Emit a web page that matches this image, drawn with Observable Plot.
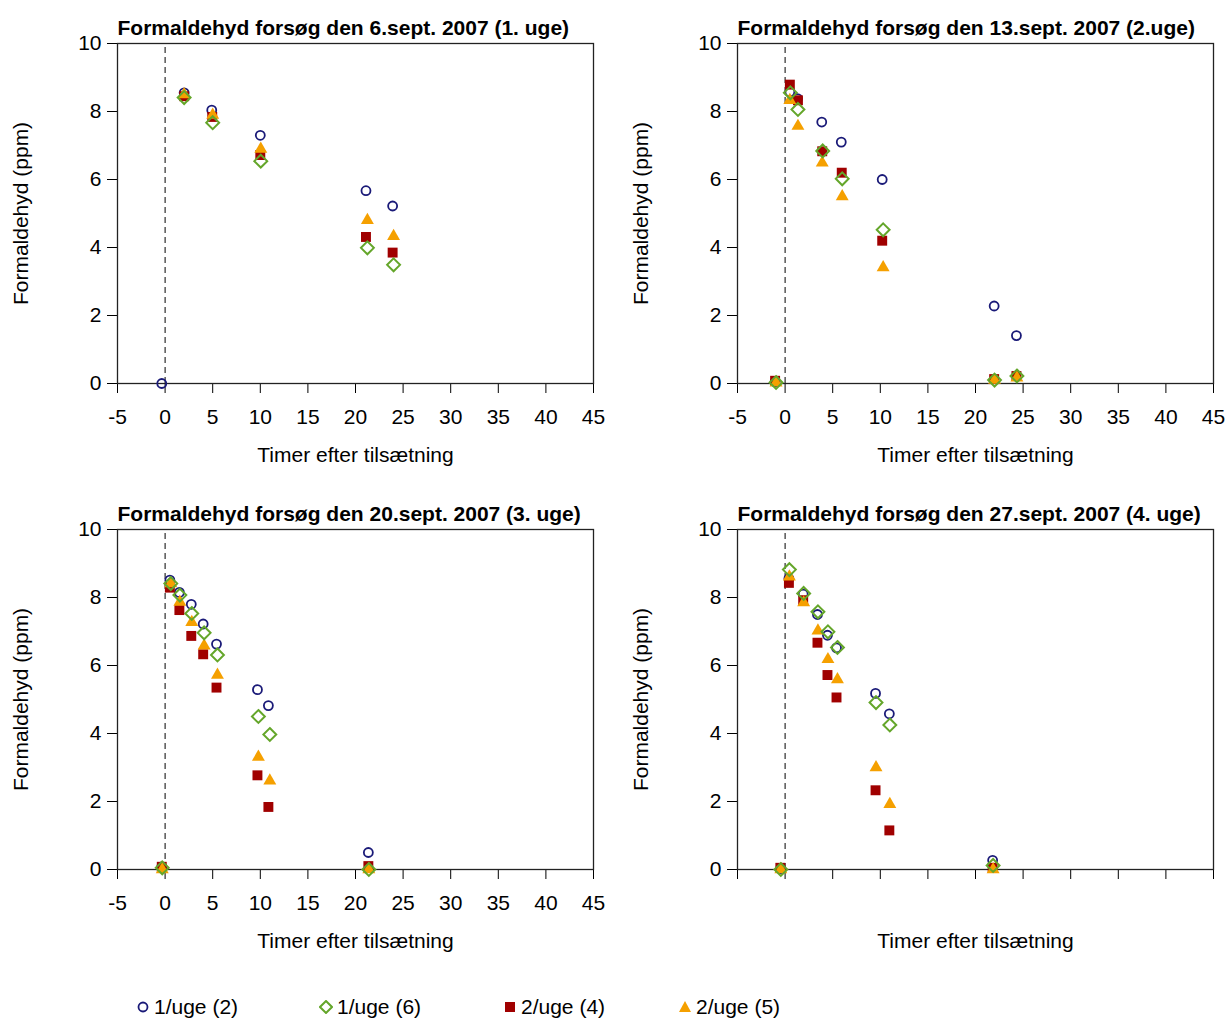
<!DOCTYPE html>
<html><head><meta charset="utf-8">
<script src="https://cdn.jsdelivr.net/npm/d3@7"></script>
<script src="https://cdn.jsdelivr.net/npm/@observablehq/plot@0.6"></script>
<style>
body{margin:0;background:#fff;font-family:"Liberation Sans",Arial,sans-serif;}
#root{position:relative;width:1226px;height:1018px;overflow:hidden;}
.panel{position:absolute;}
#legend{position:absolute;left:0;top:994px;width:1226px;height:26px;font-size:21px;color:#000;}
.li{position:absolute;top:0;display:flex;align-items:center;height:26px;}
.li svg{margin-right:4px;}
</style></head><body><div id="root"><div id="legend"></div></div>
<script>
const seriesNames = ["1/uge (2)", "1/uge (6)", "2/uge (4)", "2/uge (5)"];
const titles = [
  "Formaldehyd forsøg den 6.sept. 2007 (1. uge)",
  "Formaldehyd forsøg den 13.sept. 2007 (2.uge)",
  "Formaldehyd forsøg den 20.sept. 2007 (3. uge)",
  "Formaldehyd forsøg den 27.sept. 2007 (4. uge)"
];
const xTicks = [-5, 0, 5, 10, 15, 20, 25, 30, 35, 40, 45];
const yTicks = [0, 2, 4, 6, 8, 10];
const xLabel = "Timer efter tilsætning";
const yLabel = "Formaldehyd (ppm)";

// [timer, ppm] per series, week 1
const w1_uge1_2 = [[-0.35, 0], [2.0, 8.55], [4.9, 8.04], [10.0, 7.3], [21.1, 5.67], [23.9, 5.22]];
const w1_uge1_6 = [[2.0, 8.41], [5.0, 7.67], [10.05, 6.54], [21.25, 3.99], [24.0, 3.49]];
const w1_uge2_4 = [[2.0, 8.45], [4.95, 7.84], [10.0, 6.72], [21.1, 4.31], [23.9, 3.85]];
const w1_uge2_5 = [[2.0, 8.5], [5.0, 7.9], [10.05, 6.9], [21.25, 4.8], [24.0, 4.33]];
// week 2
const w2_uge1_2 = [[-1.05, 0.05], [0.5, 8.58], [1.3, 8.38], [3.85, 7.69], [5.9, 7.1], [10.2, 6.0], [21.96, 2.28], [24.3, 1.41]];
const w2_uge1_6 = [[-0.95, 0.03], [0.55, 8.55], [1.35, 8.06], [3.95, 6.84], [6.0, 6.02], [10.3, 4.52], [22.0, 0.1], [24.35, 0.22]];
const w2_uge2_4 = [[-1.05, 0.08], [0.5, 8.79], [1.35, 8.33], [3.9, 6.83], [5.95, 6.2], [10.2, 4.2], [21.96, 0.13], [24.3, 0.22]];
const w2_uge2_5 = [[-0.95, 0.02], [0.5, 8.33], [1.35, 7.57], [3.9, 6.49], [6.0, 5.5], [10.3, 3.41], [22.0, 0.1], [24.35, 0.17]];
// week 3
const w3_uge1_2 = [[-0.35, 0.08], [0.5, 8.51], [1.5, 8.15], [2.75, 7.8], [4.0, 7.22], [5.4, 6.63], [9.7, 5.29], [10.85, 4.82], [21.35, 0.5]];
const w3_uge1_6 = [[-0.3, 0.05], [0.6, 8.41], [1.55, 8.07], [2.8, 7.53], [4.1, 6.96], [5.5, 6.31], [9.8, 4.5], [11.0, 3.97], [21.4, 0.0]];
const w3_uge2_4 = [[-0.35, 0.08], [0.5, 8.29], [1.5, 7.63], [2.75, 6.87], [4.0, 6.33], [5.4, 5.35], [9.7, 2.77], [10.85, 1.84], [21.35, 0.1]];
const w3_uge2_5 = [[-0.3, 0.0], [0.6, 8.41], [1.55, 7.87], [2.8, 7.27], [4.1, 6.58], [5.5, 5.72], [9.8, 3.31], [11.0, 2.61], [21.4, 0.0]];
// week 4
const w4_uge1_2 = [[-0.45, 0.03], [0.4, 8.56], [1.9, 8.1], [3.4, 7.5], [4.45, 6.89], [5.4, 6.52], [9.5, 5.18], [10.95, 4.58], [21.8, 0.27]];
const w4_uge1_6 = [[-0.45, 0.0], [0.45, 8.82], [1.95, 8.12], [3.45, 7.58], [4.5, 6.99], [5.5, 6.53], [9.55, 4.91], [11.0, 4.25], [21.85, 0.12]];
const w4_uge2_4 = [[-0.5, 0.05], [0.4, 8.43], [1.9, 7.92], [3.4, 6.67], [4.45, 5.72], [5.4, 5.06], [9.5, 2.33], [10.95, 1.15], [21.8, 0.05]];
const w4_uge2_5 = [[-0.45, 0.0], [0.45, 8.61], [1.95, 7.85], [3.45, 7.02], [4.5, 6.18], [5.5, 5.59], [9.55, 3.0], [11.0, 1.92], [21.85, 0.0]];

const weeks = [
  [w1_uge1_2, w1_uge1_6, w1_uge2_4, w1_uge2_5],
  [w2_uge1_2, w2_uge1_6, w2_uge2_4, w2_uge2_5],
  [w3_uge1_2, w3_uge1_6, w3_uge2_4, w3_uge2_5],
  [w4_uge1_2, w4_uge1_6, w4_uge2_4, w4_uge2_5]
];

const NAVY = "#1a1a78", GREEN = "#64a62a", RED = "#a00000", ORANGE = "#f5a000";
const FONT = "Liberation Sans, Arial, Helvetica, sans-serif";

function dots(data, k) {
  const X = d => d[0], Y = d => d[1];
  if (k === 0) return Plot.dot(data, {x: X, y: Y, symbol: "circle", r: 4.5, fill: "none", stroke: NAVY, strokeWidth: 1.8});
  if (k === 1) return Plot.dot(data, {x: X, y: Y, symbol: "diamond2", r: 5.8, fill: "none", stroke: GREEN, strokeWidth: 2});
  if (k === 2) return Plot.dot(data, {x: X, y: Y, symbol: "square", r: 5.6, fill: RED, stroke: "none"});
  return Plot.dot(data, {x: X, y: Y, symbol: "triangle", r: 4.8, fill: ORANGE, stroke: "none"});
}

function panel(i) {
  const data = weeks[i];
  const showX = i !== 3;
  return Plot.plot({
    width: 613, height: 480,
    marginLeft: 117, marginRight: 20, marginTop: 43, marginBottom: 97,
    style: {fontFamily: FONT, fontSize: "21px", color: "#000", background: "transparent", overflow: "visible"},
    x: {domain: [-5, 45], ticks: xTicks, tickSize: 10, tickPadding: 16,
        tickFormat: showX ? (d => String(d)) : (() => ""),
        label: xLabel, labelAnchor: "center", labelOffset: 78, labelArrow: false},
    y: {domain: [0, 10], ticks: yTicks, tickSize: 10, tickPadding: 6,
        tickFormat: d => String(d),
        label: yLabel, labelAnchor: "center", labelOffset: 104, labelArrow: false},
    marks: [
      Plot.frame({stroke: "#222", strokeWidth: 1.3}),
      Plot.ruleX([0], {y1: 0, y2: 10, stroke: "#000", strokeWidth: 1, strokeDasharray: "6,4"}),
      dots(data[0], 0),
      dots(data[2], 2),
      dots(data[3], 3),
      dots(data[1], 1),
      Plot.text([titles[i]], {frameAnchor: "top-left", dy: -15, textAnchor: "start", lineAnchor: "middle",
        fontWeight: "bold", fontSize: 21, fill: "#000"})
    ]
  });
}

const root = document.getElementById("root");
const pos = [[0, 0], [620, 0], [0, 486], [620, 486]];
for (let i = 0; i < 4; i++) {
  const el = panel(i);
  el.classList.add("panel");
  el.style.left = pos[i][0] + "px";
  el.style.top = pos[i][1] + "px";
  root.appendChild(el);
}

// legend
const legend = document.getElementById("legend");
const legendX = [136, 319, 503, 678];
const icons = [
  `<svg width="14" height="14"><circle cx="7" cy="7" r="4.5" fill="none" stroke="${NAVY}" stroke-width="1.8"/></svg>`,
  `<svg width="14" height="14"><path d="M7,1L13,7L7,13L1,7Z" fill="none" stroke="${GREEN}" stroke-width="2"/></svg>`,
  `<svg width="14" height="14"><rect x="2" y="2" width="10" height="10" fill="${RED}"/></svg>`,
  `<svg width="14" height="14"><path d="M7,1L13,12L1,12Z" fill="${ORANGE}"/></svg>`
];
seriesNames.forEach((n, k) => {
  const d = document.createElement("div");
  d.className = "li";
  d.style.left = legendX[k] + "px";
  d.innerHTML = icons[k] + `<span>${n}</span>`;
  legend.appendChild(d);
});
</script></body></html>
